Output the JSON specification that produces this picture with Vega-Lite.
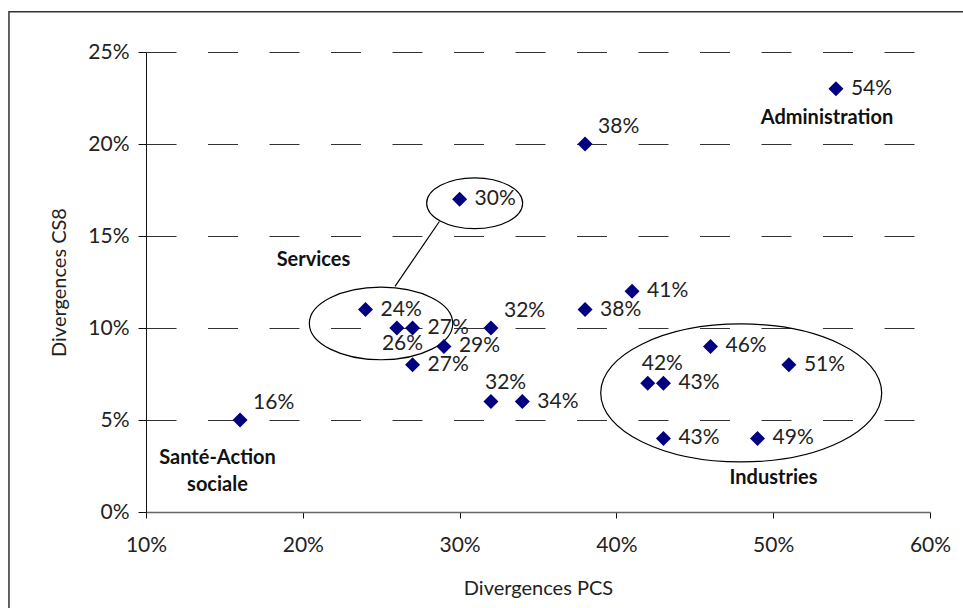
{
  "$schema": "https://vega.github.io/schema/vega-lite/v6.json",
  "width": 784,
  "height": 460,
  "autosize": {"type": "none"},
  "padding": {"left": 146, "top": 52, "right": 33, "bottom": 96},
  "background": "white",
  "config": {
    "font": "Lato",
    "view": {"stroke": null},
    "axis": {"labelFont": "Lato", "titleFont": "Lato", "labelColor": "#222", "titleColor": "#222", "labelFontSize": 21, "titleFontSize": 20, "titleFontWeight": "normal", "tickColor": "#111", "domainColor": "#333"}
  },
  "datasets": {
    "pts": [
      {"x": 0.16, "y": 0.05}, {"x": 0.24, "y": 0.11}, {"x": 0.26, "y": 0.10}, {"x": 0.27, "y": 0.10},
      {"x": 0.27, "y": 0.08}, {"x": 0.29, "y": 0.09}, {"x": 0.30, "y": 0.17}, {"x": 0.32, "y": 0.10},
      {"x": 0.32, "y": 0.06}, {"x": 0.34, "y": 0.06}, {"x": 0.38, "y": 0.20}, {"x": 0.38, "y": 0.11},
      {"x": 0.41, "y": 0.12}, {"x": 0.42, "y": 0.07}, {"x": 0.43, "y": 0.07}, {"x": 0.43, "y": 0.04},
      {"x": 0.46, "y": 0.09}, {"x": 0.49, "y": 0.04}, {"x": 0.51, "y": 0.08}, {"x": 0.54, "y": 0.23}
    ],
    "notes": [
      {"label": "Administration", "x": 0.5343, "y": 0.2143},
      {"label": "Services", "x": 0.2068, "y": 0.1371},
      {"label": "Industries", "x": 0.5002, "y": 0.0186},
      {"label": "Santé-Action\nsociale", "x": 0.1456, "y": 0.0296}
    ],
    "rings": [
      {"ring": "small", "x": 0.3096, "y": 0.1678},
      {"ring": "services", "x": 0.2499, "y": 0.1025},
      {"ring": "industries", "x": 0.4796, "y": 0.0647}
    ],
    "links": [{"x": 0.2588, "y": 0.1226, "x2": 0.2871, "y2": 0.1579}],
    "frame": [{"x": 0.0126, "x2": 0.75, "y": 0.2719, "y2": -0.1}]
  },
  "layer": [
    {
      "data": {"name": "frame"},
      "mark": {"type": "rect", "fill": null, "stroke": "#333", "strokeWidth": 1.5, "clip": false},
      "encoding": {
        "x": {"field": "x", "type": "quantitative", "scale": {"domain": [0.1, 0.6]}},
        "x2": {"field": "x2"},
        "y": {"field": "y", "type": "quantitative", "scale": {"domain": [0, 0.25]}},
        "y2": {"field": "y2"}
      }
    },
    {
      "data": {"name": "pts"},
      "mark": {"type": "point", "opacity": 0, "size": 1},
      "encoding": {
        "x": {"field": "x", "type": "quantitative", "scale": {"domain": [0.1, 0.6], "nice": false, "zero": false},
          "axis": {"values": [0.1, 0.2, 0.3, 0.4, 0.5, 0.6], "format": ".0%", "grid": false, "tickSize": 6, "labelPadding": 16, "labelFlush": false, "title": "Divergences PCS", "titlePadding": 23, "domainColor": "#666", "domainWidth": 1.5}},
        "y": {"field": "y", "type": "quantitative", "scale": {"domain": [0, 0.25], "nice": false},
          "axis": {"values": [0, 0.05, 0.1, 0.15, 0.2, 0.25], "format": ".0%", "grid": true, "gridDash": [30, 31.5], "gridColor": "#333", "gridWidth": 1, "tickSize": 8, "labelPadding": 9, "labelFlush": false, "title": "Divergences CS8", "titlePadding": 18, "domainColor": "#111"}}
      }
    },
    {
      "data": {"name": "rings"},
      "transform": [{"filter": "datum.ring == 'small'"}],
      "mark": {"type": "point", "filled": false, "stroke": "#000", "strokeWidth": 1.2, "opacity": 1, "size": 9216,
        "shape": "M1,0C1,0.2927,0.5523,0.53,0,0.53C-0.5523,0.53,-1,0.2927,-1,0C-1,-0.2927,-0.5523,-0.53,0,-0.53C0.5523,-0.53,1,-0.2927,1,0Z"},
      "encoding": {"x": {"field": "x", "type": "quantitative"}, "y": {"field": "y", "type": "quantitative"}}
    },
    {
      "data": {"name": "rings"},
      "transform": [{"filter": "datum.ring == 'services'"}],
      "mark": {"type": "point", "filled": false, "stroke": "#000", "strokeWidth": 1.2, "opacity": 1, "size": 20564,
        "shape": "M1,0C1,0.28,0.5523,0.507,0,0.507C-0.5523,0.507,-1,0.28,-1,0C-1,-0.28,-0.5523,-0.507,0,-0.507C0.5523,-0.507,1,-0.28,1,0Z"},
      "encoding": {"x": {"field": "x", "type": "quantitative"}, "y": {"field": "y", "type": "quantitative"}}
    },
    {
      "data": {"name": "rings"},
      "transform": [{"filter": "datum.ring == 'industries'"}],
      "mark": {"type": "point", "filled": false, "stroke": "#000", "strokeWidth": 1.2, "opacity": 1, "size": 78961,
        "shape": "M1,0C1,0.2712,0.5523,0.491,0,0.491C-0.5523,0.491,-1,0.2712,-1,0C-1,-0.2712,-0.5523,-0.491,0,-0.491C0.5523,-0.491,1,-0.2712,1,0Z"},
      "encoding": {"x": {"field": "x", "type": "quantitative"}, "y": {"field": "y", "type": "quantitative"}}
    },
    {
      "data": {"name": "links"},
      "mark": {"type": "rule", "color": "#000", "strokeWidth": 1.2},
      "encoding": {
        "x": {"field": "x", "type": "quantitative"}, "y": {"field": "y", "type": "quantitative"},
        "x2": {"field": "x2"}, "y2": {"field": "y2"}
      }
    },
    {
      "data": {"name": "notes"},
      "mark": {"type": "text", "font": "Lato", "fontWeight": "bold", "fontSize": 20, "color": "#111", "align": "center", "baseline": "middle", "lineBreak": "\n", "lineHeight": 27},
      "encoding": {
        "x": {"field": "x", "type": "quantitative"}, "y": {"field": "y", "type": "quantitative"},
        "text": {"field": "label"}
      }
    },
    {
      "data": {"name": "pts"},
      "mark": {"type": "point", "shape": "diamond", "filled": true, "color": "#000080", "opacity": 1, "size": 225},
      "encoding": {"x": {"field": "x", "type": "quantitative"}, "y": {"field": "y", "type": "quantitative"}}
    },
    {
      "data": {"name": "pts"},
      "transform": [{"filter": "!((datum.x==0.38&&datum.y==0.2)||(datum.x==0.32&&datum.y==0.1)||(datum.x==0.16&&datum.y==0.05)||(datum.x==0.32&&datum.y==0.06)||(datum.x==0.42&&datum.y==0.07)||(datum.x==0.26&&datum.y==0.1))"}],
      "mark": {"type": "text", "font": "Lato", "fontSize": 21, "color": "#222", "align": "left", "baseline": "middle", "dx": 15},
      "encoding": {"x": {"field": "x", "type": "quantitative"}, "y": {"field": "y", "type": "quantitative"}, "text": {"field": "x", "type": "quantitative", "format": ".0%"}}
    },
    {
      "data": {"name": "pts"},
      "transform": [{"filter": "(datum.x==0.38&&datum.y==0.2)||(datum.x==0.32&&datum.y==0.1)||(datum.x==0.16&&datum.y==0.05)"}],
      "mark": {"type": "text", "font": "Lato", "fontSize": 21, "color": "#222", "align": "left", "baseline": "middle", "dx": 13, "dy": -17},
      "encoding": {"x": {"field": "x", "type": "quantitative"}, "y": {"field": "y", "type": "quantitative"}, "text": {"field": "x", "type": "quantitative", "format": ".0%"}}
    },
    {
      "data": {"name": "pts"},
      "transform": [{"filter": "(datum.x==0.32&&datum.y==0.06)||(datum.x==0.42&&datum.y==0.07)"}],
      "mark": {"type": "text", "font": "Lato", "fontSize": 21, "color": "#222", "align": "left", "baseline": "middle", "dx": -6, "dy": -19},
      "encoding": {"x": {"field": "x", "type": "quantitative"}, "y": {"field": "y", "type": "quantitative"}, "text": {"field": "x", "type": "quantitative", "format": ".0%"}}
    },
    {
      "data": {"name": "pts"},
      "transform": [{"filter": "datum.x==0.26&&datum.y==0.1"}],
      "mark": {"type": "text", "font": "Lato", "fontSize": 21, "color": "#222", "align": "left", "baseline": "middle", "dx": -15, "dy": 16},
      "encoding": {"x": {"field": "x", "type": "quantitative"}, "y": {"field": "y", "type": "quantitative"}, "text": {"field": "x", "type": "quantitative", "format": ".0%"}}
    }
  ]
}
